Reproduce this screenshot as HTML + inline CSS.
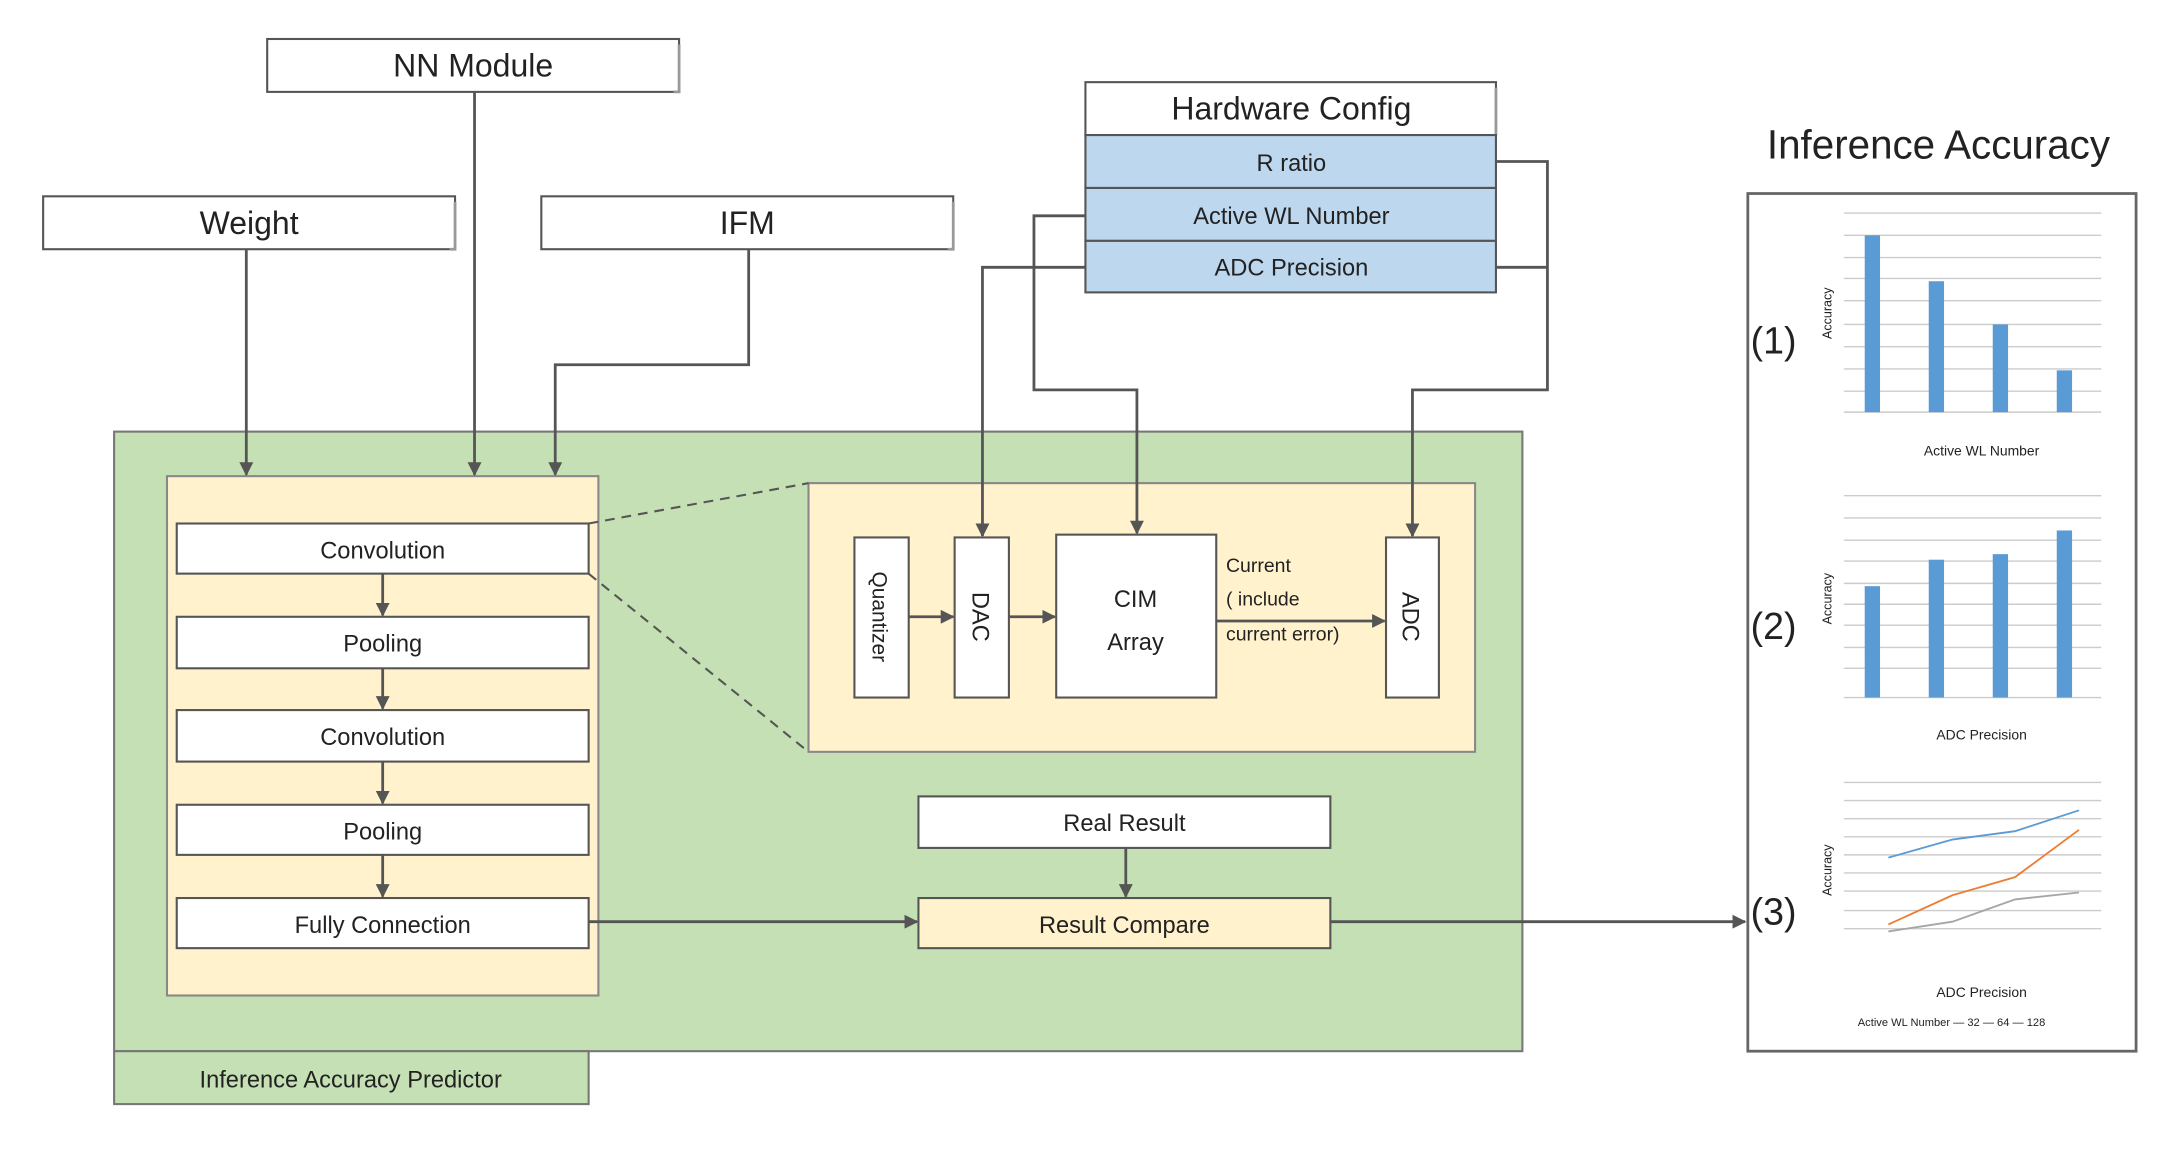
<!DOCTYPE html>
<html><head><meta charset="utf-8"><style>
html,body{margin:0;padding:0;background:#fff;}
svg{display:block;}
text{font-family:"Liberation Sans","DejaVu Sans",sans-serif;fill:#222;}
</style></head><body>
<svg width="2182" height="1157" viewBox="0 0 1568 831" preserveAspectRatio="none" xmlns="http://www.w3.org/2000/svg">
<defs>
<marker id="a" viewBox="0 0 10 10" refX="9" refY="5" markerWidth="5" markerHeight="5" orient="auto"><path d="M0,0L10,5L0,10z" fill="#555"/></marker>
</defs>
<rect width="1568" height="831" fill="#fff"/>
<g stroke="#555" stroke-width="1.5" fill="#fff">
<rect x="192" y="28" width="296" height="38"/>
<rect x="31" y="141" width="296" height="38"/>
<rect x="389" y="141" width="296" height="38"/>
<rect x="780" y="59" width="295" height="38"/>
</g>
<g stroke="#999" stroke-width="2" fill="none">
<path d="M488,32V66H484"/><path d="M327,145V179H323"/><path d="M685,145V179H681"/><path d="M1075,63V97"/>
</g>
<text x="340" y="55" font-size="23" text-anchor="middle">NN Module</text>
<text x="179" y="168" font-size="23" text-anchor="middle">Weight</text>
<text x="537" y="168" font-size="23" text-anchor="middle">IFM</text>
<text x="928" y="86" font-size="23" text-anchor="middle">Hardware Config</text>
<g stroke="#555" stroke-width="1.5" fill="#bdd7ee">
<rect x="780" y="97" width="295" height="38"/>
<rect x="780" y="135" width="295" height="38"/>
<rect x="780" y="173" width="295" height="37"/>
</g>
<text x="928" y="123" font-size="17" text-anchor="middle">R ratio</text>
<text x="928" y="161" font-size="17" text-anchor="middle">Active WL Number</text>
<text x="928" y="198" font-size="17" text-anchor="middle">ADC Precision</text>

<rect x="82" y="310" width="1012" height="445" fill="#c5e0b4" stroke="#777" stroke-width="1.5"/>
<rect x="82" y="755" width="341" height="38" fill="#c5e0b4" stroke="#777" stroke-width="1.5"/>
<text x="252" y="781" font-size="17" text-anchor="middle">Inference Accuracy Predictor</text>
<rect x="120" y="342" width="310" height="373" fill="#fff2cc" stroke="#888" stroke-width="1.5"/>
<rect x="581" y="347" width="479" height="193" fill="#fff2cc" stroke="#888" stroke-width="1.5"/>

<g stroke="#555" stroke-width="1.5" fill="#fff">
<rect x="127" y="376" width="296" height="36"/>
<rect x="127" y="443" width="296" height="37"/>
<rect x="127" y="510" width="296" height="37"/>
<rect x="127" y="578" width="296" height="36"/>
<rect x="127" y="645" width="296" height="36"/>
<rect x="614" y="386" width="39" height="115"/>
<rect x="686" y="386" width="39" height="115"/>
<rect x="759" y="384" width="115" height="117"/>
<rect x="996" y="386" width="38" height="115"/>
<rect x="660" y="572" width="296" height="37"/>
<rect x="660" y="645" width="296" height="36" fill="#fff2cc"/>
</g>
<g font-size="17" text-anchor="middle">
<text x="275" y="401">Convolution</text>
<text x="275" y="468">Pooling</text>
<text x="275" y="535">Convolution</text>
<text x="275" y="603">Pooling</text>
<text x="275" y="670">Fully Connection</text>
<text x="808" y="597">Real Result</text>
<text x="808" y="670">Result Compare</text>
<text x="816" y="436">CIM</text>
<text x="816" y="467">Array</text>
<text transform="translate(627,443) rotate(90)" font-size="15">Quantizer</text>
<text transform="translate(699,443) rotate(90)" font-size="17">DAC</text>
<text transform="translate(1008,443) rotate(90)" font-size="17">ADC</text>
</g>
<g font-size="14">
<text x="881" y="411">Current</text>
<text x="881" y="435">( include</text>
<text x="881" y="460">current error)</text>
</g>
<g stroke="#555" stroke-width="1.5" stroke-dasharray="7,5"><path d="M423,376L581,347"/><path d="M423,412L581,540"/></g>

<g stroke="#555" stroke-width="2" fill="none" marker-end="url(#a)">
<path d="M177,179V341"/>
<path d="M341,66V341"/>
<path d="M538,179V262H399V341"/>
<path d="M780,155H743V280H817V383"/>
<path d="M780,192H706V385"/>
<path d="M1075,116H1112V280H1015V385"/>
<path d="M275,412V442"/><path d="M275,480V509"/><path d="M275,547V577"/><path d="M275,614V644"/>
<path d="M653,443H685"/><path d="M725,443H758"/><path d="M874,446H995"/>
<path d="M423,662H659"/>
<path d="M809,609V644"/>
<path d="M956,662H1254"/>
</g>
<path d="M1075,192H1112" stroke="#555" stroke-width="2"/>

<text x="1393" y="114" font-size="29" text-anchor="middle">Inference Accuracy</text>
<rect x="1256" y="139" width="279" height="616" fill="#fff" stroke="#666" stroke-width="2"/>
<g font-size="27"><text x="1258" y="254">(1)</text><text x="1258" y="459">(2)</text><text x="1258" y="664">(3)</text></g>
<g stroke="#ccc" stroke-width="1">
<path d="M1325,153H1510M1325,169H1510M1325,185H1510M1325,200H1510M1325,216H1510M1325,233H1510M1325,249H1510M1325,265H1510M1325,281H1510M1325,296H1510"/>
<path d="M1325,356H1510M1325,372H1510M1325,388H1510M1325,403H1510M1325,419H1510M1325,434H1510M1325,449H1510M1325,465H1510M1325,480H1510M1325,501H1510"/>
<path d="M1325,562H1510M1325,575H1510M1325,588H1510M1325,601H1510M1325,614H1510M1325,627H1510M1325,640H1510M1325,654H1510M1325,667H1510"/>
</g>
<g fill="#5b9bd5">
<rect x="1340" y="169" width="11" height="127"/><rect x="1386" y="202" width="11" height="94"/><rect x="1432" y="233" width="11" height="63"/><rect x="1478" y="266" width="11" height="30"/>
<rect x="1340" y="421" width="11" height="80"/><rect x="1386" y="402" width="11" height="99"/><rect x="1432" y="398" width="11" height="103"/><rect x="1478" y="381" width="11" height="120"/>
</g>
<g font-size="10" fill="#555">
<text x="1424" y="327" text-anchor="middle">Active WL Number</text>
<text x="1424" y="531" text-anchor="middle">ADC Precision</text>
<text x="1424" y="716" text-anchor="middle">ADC Precision</text>
<text x="1335" y="737" font-size="8">Active WL Number  — 32  — 64  — 128</text>
<text transform="translate(1316,225) rotate(-90)" font-size="9" text-anchor="middle">Accuracy</text>
<text transform="translate(1316,430) rotate(-90)" font-size="9" text-anchor="middle">Accuracy</text>
<text transform="translate(1316,625) rotate(-90)" font-size="9" text-anchor="middle">Accuracy</text>
</g>
<g fill="none" stroke-width="1.3">
<path d="M1357,616L1403,603L1448,597L1494,582" stroke="#5b9bd5"/>
<path d="M1357,664L1403,643L1448,630L1494,596" stroke="#ed7d31"/>
<path d="M1357,669L1403,662L1448,646L1494,641" stroke="#a5a5a5"/>
</g>
</svg>
</body></html>
